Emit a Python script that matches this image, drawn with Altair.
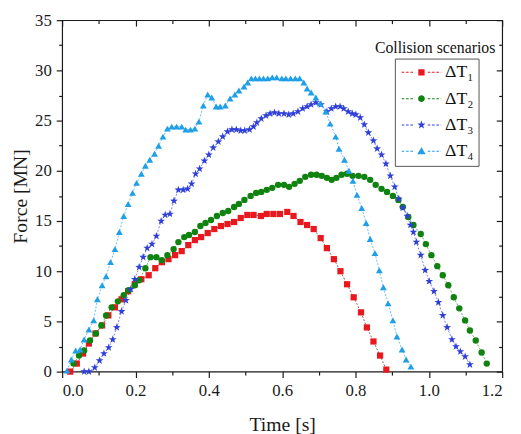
import altair as alt
import pandas as pd
import math

# ---------------- data ----------------
series_names = ["ΔT₁", "ΔT₂", "ΔT₃", "ΔT₄"]

t1 = [0.022, 0.040, 0.057, 0.073, 0.091, 0.109, 0.126, 0.144, 0.162, 0.180,
      0.198, 0.216, 0.236, 0.254, 0.272, 0.290, 0.308, 0.326, 0.344, 0.362,
      0.379, 0.397, 0.415, 0.433, 0.451, 0.469, 0.487, 0.505, 0.522, 0.542,
      0.558, 0.576, 0.594, 0.614, 0.631, 0.650, 0.668, 0.686, 0.705, 0.722,
      0.741, 0.759, 0.777, 0.795, 0.815, 0.831, 0.849, 0.867, 0.884]
f1 = [0.0, 0.8, 1.8, 2.8, 3.8, 4.6, 5.6, 6.4, 7.2, 8.0,
      8.7, 9.2, 9.6, 10.3, 10.9, 11.2, 11.6, 12.0, 12.6, 13.1,
      13.4, 13.8, 14.2, 14.5, 14.7, 14.9, 15.3, 15.6, 15.6, 15.5,
      15.7, 15.7, 15.7, 15.9, 15.5, 14.9, 14.6, 14.2, 13.3, 12.3,
      11.2, 10.0, 8.7, 7.4, 5.9, 4.4, 3.0, 1.6, 0.2]

t2 = [0.031, 0.046, 0.060, 0.076, 0.092, 0.107, 0.120, 0.135, 0.152, 0.168,
      0.181, 0.198, 0.210, 0.227, 0.241, 0.257, 0.272, 0.287, 0.304, 0.317,
      0.333, 0.346, 0.362, 0.377, 0.391, 0.406, 0.422, 0.438, 0.453, 0.469,
      0.482, 0.497, 0.514, 0.529, 0.543, 0.558, 0.573, 0.589, 0.605, 0.619,
      0.634, 0.648, 0.663, 0.679, 0.694, 0.708, 0.722, 0.735, 0.748, 0.762,
      0.777, 0.792, 0.808, 0.824, 0.840, 0.855, 0.871, 0.886, 0.902, 0.917,
      0.929, 0.944, 0.958, 0.978, 0.992, 1.007, 1.023, 1.038, 1.053, 1.068,
      1.083, 1.099, 1.112, 1.128, 1.144, 1.158]
f2 = [0.8, 1.6, 2.1, 3.1, 3.8, 4.6, 5.6, 6.4, 7.0, 7.6,
      8.1, 8.6, 9.1, 10.3, 11.4, 11.4, 11.1, 11.6, 12.2, 12.9,
      13.4, 13.6, 13.9, 14.5, 14.8, 15.1, 15.5, 15.8, 16.0, 16.4,
      16.7, 17.1, 17.5, 17.8, 17.9, 18.1, 18.3, 18.6, 18.6, 18.4,
      18.7, 19.0, 19.4, 19.6, 19.6, 19.5, 19.3, 19.1, 19.3, 19.6,
      19.7, 19.5, 19.5, 19.4, 19.1, 18.6, 18.2, 17.9, 17.5, 17.1,
      16.4, 15.4, 14.6, 13.7, 12.7, 11.6, 10.5, 9.6, 8.6, 7.4,
      6.3, 5.1, 4.1, 3.1, 1.9, 0.8]

t3 = [0.060, 0.073, 0.089, 0.102, 0.114, 0.127, 0.138, 0.149, 0.162, 0.174,
      0.187, 0.198, 0.210, 0.221, 0.232, 0.245, 0.257, 0.270, 0.281, 0.294,
      0.305, 0.317, 0.330, 0.342, 0.353, 0.364, 0.375, 0.388, 0.400, 0.412,
      0.426, 0.438, 0.451, 0.463, 0.475, 0.487, 0.498, 0.511, 0.522, 0.531,
      0.543, 0.556, 0.567, 0.579, 0.591, 0.605, 0.618, 0.630, 0.643, 0.656,
      0.668, 0.679, 0.692, 0.706, 0.722, 0.734, 0.746, 0.758, 0.768, 0.780,
      0.791, 0.801, 0.813, 0.824, 0.835, 0.849, 0.859, 0.871, 0.883, 0.895,
      0.907, 0.918, 0.929, 0.941, 0.950, 0.958, 0.966, 0.978, 0.990, 1.001,
      1.014, 1.026, 1.038, 1.050, 1.063, 1.074, 1.086, 1.099, 1.112]
f3 = [0.0, 0.0, 0.4, 1.1, 1.8, 2.4, 3.2, 4.4, 6.0, 7.1,
      8.2, 9.2, 10.4, 11.4, 12.3, 12.7, 13.5, 15.0, 15.6, 15.7,
      17.0, 18.1, 18.1, 18.2, 18.7, 19.7, 20.2, 21.0, 21.6, 22.3,
      22.9, 23.4, 23.9, 24.1, 24.1, 24.0, 24.0, 24.1, 24.4, 24.8,
      25.2, 25.5, 25.7, 25.8, 25.7, 25.7, 25.6, 25.7, 25.9, 26.2,
      26.4, 26.6, 26.8, 26.6, 25.9, 26.2, 26.4, 26.4, 26.2, 25.9,
      25.7, 25.6, 25.3, 24.6, 23.8, 23.0, 22.2, 21.6, 20.7, 19.5,
      18.4, 17.2, 16.3, 15.5, 14.6, 13.9, 12.9, 11.6, 10.1, 9.0,
      8.0, 6.9, 5.6, 4.4, 3.2, 2.5, 2.0, 1.5, 0.7]

t4 = [0.013, 0.025, 0.037, 0.049, 0.060, 0.073, 0.086, 0.096, 0.109, 0.120,
      0.132, 0.144, 0.156, 0.168, 0.180, 0.192, 0.203, 0.216, 0.227, 0.239,
      0.252, 0.263, 0.275, 0.287, 0.299, 0.312, 0.326, 0.337, 0.350, 0.362,
      0.373, 0.385, 0.397, 0.408, 0.420, 0.431, 0.445, 0.458, 0.471, 0.482,
      0.496, 0.506, 0.516, 0.527, 0.538, 0.549, 0.561, 0.573, 0.585, 0.599,
      0.610, 0.623, 0.636, 0.648, 0.659, 0.668, 0.679, 0.692, 0.704, 0.719,
      0.731, 0.746, 0.755, 0.770, 0.782, 0.793, 0.804, 0.817, 0.829, 0.840,
      0.853, 0.865, 0.876, 0.889, 0.902, 0.913, 0.927, 0.938, 0.951]
f4 = [0.1, 1.2, 2.1, 2.2, 3.2, 4.2, 5.1, 7.2, 8.6, 9.5,
      10.9, 12.2, 13.9, 15.5, 16.7, 17.8, 18.8, 19.7, 20.5, 21.1,
      21.7, 22.5, 23.4, 24.2, 24.4, 24.4, 24.4, 24.1, 24.1, 24.2,
      24.9, 26.5, 27.6, 27.3, 26.4, 26.4, 26.5, 27.2, 27.6, 28.0,
      28.4, 28.8, 29.2, 29.2, 29.2, 29.2, 29.2, 29.3, 29.3, 29.2,
      29.2, 29.2, 29.2, 29.2, 28.8, 28.2, 27.8, 27.3, 26.7, 25.9,
      24.7, 23.4, 22.2, 21.1, 20.0, 19.0, 17.6, 16.3, 14.8, 13.2,
      11.8, 10.1, 8.4, 6.8, 5.1, 3.5, 2.2, 1.2, 0.5]

x_ticks = [0.0, 0.2, 0.4, 0.6, 0.8, 1.0, 1.2]
x_minor = [0.1, 0.3, 0.5, 0.7, 0.9, 1.1]
y_ticks = [0, 5, 10, 15, 20, 25, 30, 35]
y_minor = [2.5, 7.5, 12.5, 17.5, 22.5, 27.5, 32.5]

# ---------------- styling ----------------
marker_colors = ["#e8191e", "#108210", "#2f3fd9", "#1e9fe8"]
line_colors = ["#6e3c3c", "#3f9b3f", "#5a63d6", "#47aee8"]

STAR = ("M0,-1L0.235,-0.324L0.951,-0.309L0.38,0.124L0.588,0.809L0,0.4"
        "L-0.588,0.809L-0.38,0.124L-0.951,-0.309L-0.235,-0.324Z")
marker_shapes = ["square", "circle", STAR, "triangle-up"]
marker_sizes = [40, 42, 70, 48]

# legend symbols: dashed line + marker as one filled path.
# Vega draws a custom path scaled by sqrt(size)/2 = R pixels per unit,
# centred on x = R inside the legend entry; the path is shifted so that it
# runs from the entry's left edge over 2*HALF_W pixels.
LEG_SIZE = 196
R = LEG_SIZE ** 0.5 / 2.0          # 7 px per unit
HALF_W = 20.0                      # half width of legend line, px
SHIFT = HALF_W - R                 # px


def ux(px):
    return (px + SHIFT) / R


def uy(px):
    return px / R


def dashes(gap_px):
    parts = []
    x = -HALF_W
    while x < HALF_W:
        x2 = min(x + 2.6, HALF_W)
        if x2 < -gap_px or x > gap_px:
            parts.append(f"M{ux(x):.3f},{uy(-0.5):.3f}H{ux(x2):.3f}V{uy(0.5):.3f}H{ux(x):.3f}Z")
        x += 4.4
    return "".join(parts)


def star_path(ro, ri):
    pts = []
    for k in range(10):
        ang = math.radians(-90 + 36 * k)
        rr = ro if k % 2 == 0 else ri
        pts.append(f"{ux(rr * math.cos(ang)):.3f},{uy(rr * math.sin(ang)):.3f}")
    return "M" + "L".join(pts) + "Z"


s = 3.2
c = 3.4
leg_markers = [
    f"M{ux(-s):.3f},{uy(-s):.3f}H{ux(s):.3f}V{uy(s):.3f}H{ux(-s):.3f}Z",
    (f"M{ux(-c):.3f},0A{uy(c):.3f},{uy(c):.3f} 0 1,0 {ux(c):.3f},0"
     f"A{uy(c):.3f},{uy(c):.3f} 0 1,0 {ux(-c):.3f},0Z"),
    star_path(4.4, 1.8),
    f"M{ux(0):.3f},{uy(-4.0):.3f}L{ux(4.3):.3f},{uy(3.2):.3f}L{ux(-4.3):.3f},{uy(3.2):.3f}Z",
]
legend_shapes = [dashes(4.6) + m for m in leg_markers]

rows = []
for name, ts, fs in zip(series_names, [t1, t2, t3, t4], [f1, f2, f3, f4]):
    for t, f in zip(ts, fs):
        rows.append({"series": name, "t": t, "F": f})
df = pd.DataFrame(rows)

FONT = "Liberation Serif"
INK = "#1a1a1a"
xscale = alt.Scale(domain=[0, 1.2], nice=False, zero=False)
yscale = alt.Scale(domain=[0, 35], nice=False)


def ax(**kw):
    return alt.Axis(labelFont=FONT, titleFont=FONT, **kw)


base = alt.Chart(df)

# main lines, bottom/left labelled axes
lines = base.mark_line(strokeDash=[2, 1.6], strokeWidth=0.8).encode(
    x=alt.X("t:Q", scale=xscale,
            axis=ax(orient="bottom", values=x_ticks, format=".1f",
                    title="Time [s]", tickSize=6, labelPadding=5, titlePadding=17)),
    y=alt.Y("F:Q", scale=yscale,
            axis=ax(orient="left", values=y_ticks, title="Force [MN]",
                    tickSize=6, labelPadding=5, titlePadding=4)),
    stroke=alt.Stroke("series:N", scale=alt.Scale(domain=series_names, range=line_colors),
                      legend=None),
    detail="series:N",
)

# markers: one layer per series; the first one carries the minor bottom/left ticks
point_layers = []
for i, name in enumerate(series_names):
    if i == 0:
        xe = alt.X("t:Q", scale=xscale,
                   axis=ax(orient="bottom", values=x_minor, labels=False, title=None,
                           tickSize=3.5))
        ye = alt.Y("F:Q", scale=yscale,
                   axis=ax(orient="left", values=y_minor, labels=False, title=None,
                           tickSize=3.5))
    else:
        xe = alt.X("t:Q", scale=xscale, axis=None)
        ye = alt.Y("F:Q", scale=yscale, axis=None)
    point_layers.append(
        base.transform_filter(alt.datum.series == name)
        .mark_point(filled=True, opacity=1, strokeWidth=0, shape=marker_shapes[i],
                    color=marker_colors[i], size=marker_sizes[i])
        .encode(x=xe, y=ye)
    )

leg = alt.Legend(title=None, orient="none", legendX=338, legendY=39,
                 symbolSize=LEG_SIZE, symbolStrokeWidth=0, symbolOpacity=1,
                 labelOffset=2 * HALF_W - 2 * R + 2,
                 labelFont=FONT, labelFontSize=18, labelColor="#111",
                 rowPadding=8.7, padding=5,
                 strokeColor="#555", fillColor="white")

# invisible layer carrying the legend and the inward top/right major ticks
legend_layer = base.mark_point(filled=True, opacity=0).encode(
    x=alt.X("t:Q", scale=xscale,
            axis=ax(orient="top", values=x_ticks, labels=False, title=None,
                    tickSize=6, offset=-6)),
    y=alt.Y("F:Q", scale=yscale,
            axis=ax(orient="right", values=y_ticks, labels=False, title=None,
                    tickSize=6, offset=-6)),
    color=alt.Color("series:N", scale=alt.Scale(domain=series_names, range=marker_colors),
                    legend=leg),
    shape=alt.Shape("series:N", scale=alt.Scale(domain=series_names, range=legend_shapes),
                    legend=leg),
)

# invisible layer for inward top/right minor ticks
minor_layer = base.mark_point(opacity=0).encode(
    x=alt.X("t:Q", scale=xscale,
            axis=ax(orient="top", values=x_minor, labels=False, title=None,
                    tickSize=3.5, offset=-3.5)),
    y=alt.Y("F:Q", scale=yscale,
            axis=ax(orient="right", values=y_minor, labels=False, title=None,
                    tickSize=3.5, offset=-3.5)),
)

legend_title = alt.Chart(pd.DataFrame({"label": ["Collision scenarios"]})).mark_text(
    font=FONT, fontSize=16, align="right", baseline="alphabetic", color="#111"
).encode(text="label:N", x=alt.value(440), y=alt.value(33))

chart = (
    alt.layer(lines, *point_layers, legend_layer, minor_layer, legend_title)
    .resolve_axis(x="independent", y="independent")
    .resolve_scale(color="independent", shape="independent")
    .properties(width=447, height=357,
                autosize=alt.AutoSizeParams(type="none"),
                padding={"left": 55, "top": 9, "right": 11, "bottom": 60})
    .configure_view(stroke=INK, strokeWidth=1.2)
    .configure_axis(domain=False, grid=False, tickColor=INK, tickWidth=1.2,
                    labelFont=FONT, labelFontSize=17, labelColor=INK,
                    titleFont=FONT, titleFontSize=20, titleFontWeight="normal",
                    titleColor=INK)
)

chart.save("out.html", embed_options={"renderer": "svg", "actions": False})
